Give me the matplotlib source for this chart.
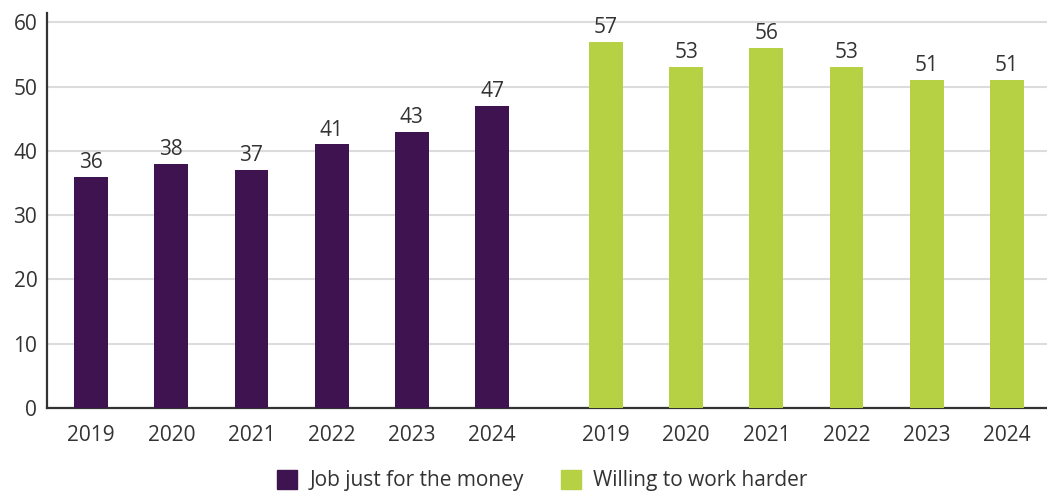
import matplotlib
matplotlib.use("Agg")
import matplotlib.pyplot as plt
from matplotlib.patches import Patch

years = ["2019", "2020", "2021", "2022", "2023", "2024"]
job_for_money = [36, 38, 37, 41, 43, 47]
willing_harder = [57, 53, 56, 53, 51, 51]
series_names = ["Job just for the money", "Willing to work harder"]
y_ticks = [0, 10, 20, 30, 40, 50, 60]

purple = "#3E1350"
green = "#B6D143"
text_col = "#333333"
fs = 15

plt.rcParams["font.family"] = ["Open Sans", "DejaVu Sans"]

fig = plt.figure(figsize=(10.47, 4.95), dpi=100)
ax = fig.add_axes([47 / 1047, 87 / 495, 1 - 47 / 1047, (408 - 13) / 495])

gap = 6.42
x1 = list(range(len(years)))
x2 = [i + gap for i in range(len(years))]
width = 0.42

b1 = ax.bar(x1, job_for_money, width=width, color=purple, zorder=3)
b2 = ax.bar(x2, willing_harder, width=width, color=green, zorder=3)

for bars, vals in ((b1, job_for_money), (b2, willing_harder)):
    for rect, v in zip(bars, vals):
        ax.text(rect.get_x() + rect.get_width() / 2, v + 0.6, f"{v}",
                ha="center", va="bottom", fontsize=fs, color=text_col)

ax.set_xlim(-0.55, 11.92)
ax.set_ylim(0, 61.45)
ax.set_yticks(y_ticks)
ax.set_xticks(x1 + x2)
ax.set_xticklabels(years + years)
ax.tick_params(axis="both", length=0, labelsize=fs, labelcolor=text_col)
ax.tick_params(axis="y", pad=7)
ax.tick_params(axis="x", pad=12)

ax.grid(axis="y", color="#dcdcdc", linewidth=1.5, zorder=0)
ax.set_axisbelow(True)
for s in ("top", "right"):
    ax.spines[s].set_visible(False)
for s in ("left", "bottom"):
    ax.spines[s].set_color("#333333")
    ax.spines[s].set_linewidth(1.6)

handles = [Patch(color=purple), Patch(color=green)]
fig.legend(handles, series_names, loc="lower center", ncol=2, frameon=False,
           bbox_to_anchor=(0.518, -0.018), fontsize=fs, labelcolor=text_col,
           handlelength=0.95, handleheight=1.05, handletextpad=0.6,
           columnspacing=1.8, borderaxespad=0.2)

fig.savefig("out.png", dpi=100)
